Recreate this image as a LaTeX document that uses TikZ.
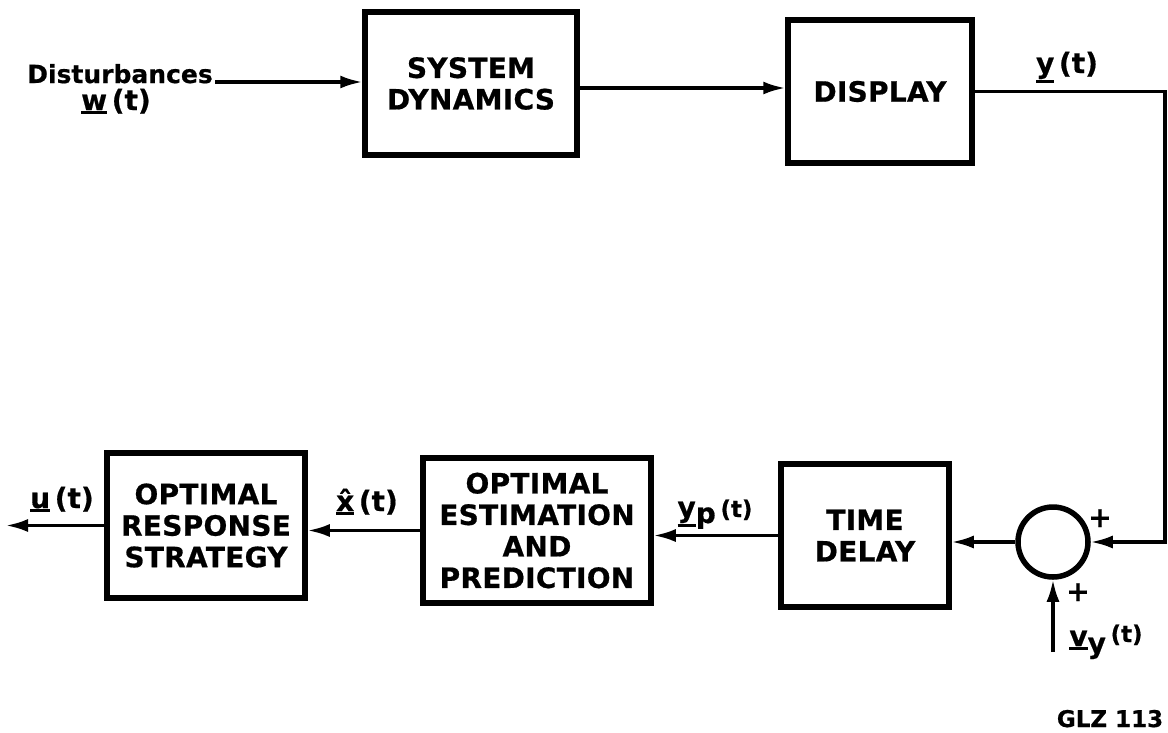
\documentclass[tikz,border=0pt]{standalone}
\usepackage{fontspec}
\setmainfont{DejaVu Sans}[BoldFeatures={FakeBold=0.6}]
\usetikzlibrary{arrows.meta}
\newcommand{\lblfont}{\fontsize{28}{31.5}\selectfont\bfseries\addfontfeatures{LetterSpace=1}}
\newcommand{\ul}[1]{\setbox0\hbox{#1}\rlap{\rule[\dimexpr-\dp0-4pt\relax]{\wd0}{3pt}}\box0}
\newcommand{\xhat}{\ul{x^^^^0302}}
\begin{document}
\begin{tikzpicture}[x=1pt,y=-1pt,
  blk/.style={draw, line width=5.5pt, inner sep=0pt, font=\lblfont, align=center},
  ln/.style={line width=3.2pt},
  arr/.style={ln, -{Latex[length=22pt,width=13pt]}},
  lbl/.style={font=\fontsize{28}{31.5}\selectfont\bfseries, inner sep=0pt, anchor=base}]
\useasboundingbox (0,0) rectangle (1168,732);
% blocks
\node[blk, minimum width=212pt, minimum height=143pt] (sd) at (471,83.5) {SYSTEM\\DYNAMICS};
\node[blk, minimum width=184pt, minimum height=143pt] (disp) at (880,91.5) {DISPLAY};
\node[blk, minimum width=198pt, minimum height=145pt] (ors) at (206,525.5) {OPTIMAL\\RESPONSE\\STRATEGY};
\node[blk, minimum width=228pt, minimum height=145pt] (est) at (537,530.5) {OPTIMAL\\ESTIMATION\\AND\\PREDICTION};
\node[blk, minimum width=168pt, minimum height=143pt] (td) at (865,535.5) {TIME\\DELAY};
\node[draw, circle, line width=5.5pt, minimum size=70pt, inner sep=0pt] (sum) at (1053,542) {};
% labels
\node[lbl, font=\fontsize{25}{28}\selectfont\bfseries] (dist) at (120,83) {Disturbances};
\node[lbl] (w) at (116,110) {\ul{w}\,(t)};
\node[lbl] (y) at (1067,73) {\ul{y}\,(t)};
\node[lbl] (u) at (62,508) {\ul{u}\,(t)};
\node[lbl] (xh) at (367,511) {\xhat\,(t)};
\node[lbl] (yp) at (715,517) {\ul{y}\raisebox{-6pt}{p}\,{\fontsize{23}{24}\selectfont(t)}};
\node[lbl] (vy) at (1106,646) {\ul{v}\raisebox{-7pt}{y}\,{\fontsize{23}{24}\selectfont\raisebox{4pt}{(t)}}};
\node[lbl] (p1) at (1100,527) {+};
\node[lbl] (p2) at (1078,601) {+};
\node[lbl, font=\fontsize{23}{26}\selectfont\bfseries] (glz) at (1110,727) {GLZ 113};
% connectors
\coordinate (d0) at (215,82);
\coordinate (m1) at (0,88);
\coordinate (fb) at (1165,91.5);
\coordinate (uout) at (6,525.5);
\coordinate (vin) at (1053,652);
\draw[arr] (d0) -- (d0 -| sd.west);
\draw[arr] (sd.east |- m1) -- (disp.west |- m1);
\draw[arr] (disp.east) -- (fb) |- (sum.east);
\draw[arr] (sum.west) -- (td.east |- sum.west);
\draw[arr] (td.west) -- (est.east |- td.west);
\draw[arr] (est.west) -- (ors.east |- est.west);
\draw[arr] (ors.west) -- (uout);
\draw[arr] (vin) -- (sum.south);
\end{tikzpicture}
\end{document}
